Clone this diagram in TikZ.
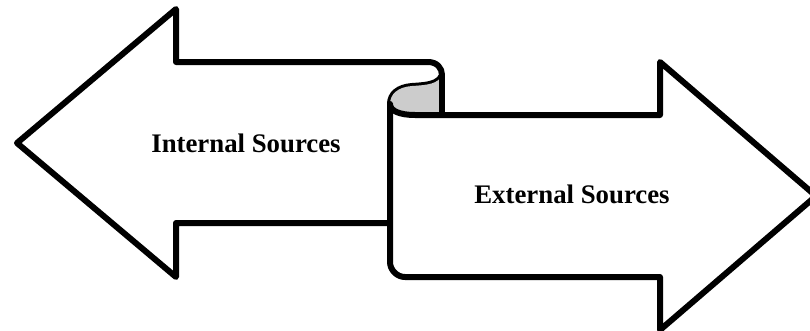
\documentclass[tikz,border=0pt]{standalone}
\usepackage{fontspec}
\setmainfont{Liberation Serif}
\begin{document}
\begin{tikzpicture}[x=1pt,y=-1pt,
  outline/.style={draw=black,line width=6pt,line join=round,line cap=round},
  lbl/.style={font=\fontsize{26.8}{30}\selectfont\bfseries,anchor=base,inner sep=0pt}]
\useasboundingbox (0,0) rectangle (810,330);
\clip (0,0) rectangle (810,330);
% left arrow (with the rolled-over top edge)
\path[outline,fill=white] (17,143) -- (176,9) -- (176,62) -- (428,62)
  .. controls (437,62) and (442,68) .. (442,75)
  .. controls (438,84) and (428,85) .. (412,86)
  .. controls (398,87) and (390,94) .. (390,104)
  -- (390,223) -- (176,223) -- (176,277) -- cycle;
% inner side of the roll
\path[fill=black!20] (442,75) .. controls (438,84) and (428,85) .. (412,86)
  .. controls (398,87) and (390,94) .. (390,104)
  .. controls (390,111) and (400,115) .. (415,115) -- (442,115) -- cycle;
\draw[outline] (442,75) -- (442,115);
% right arrow
\path[outline,fill=white] (390,104)
  .. controls (390,111) and (400,115) .. (415,115)
  -- (660,115) -- (660,62) -- (816,196) -- (660,330) -- (660,277) -- (405,277)
  .. controls (397,277) and (390,270) .. (390,262) -- cycle;
\node[lbl] (int) at (246,152) {Internal Sources};
\node[lbl] (ext) at (572,203) {External Sources};
\end{tikzpicture}
\end{document}
